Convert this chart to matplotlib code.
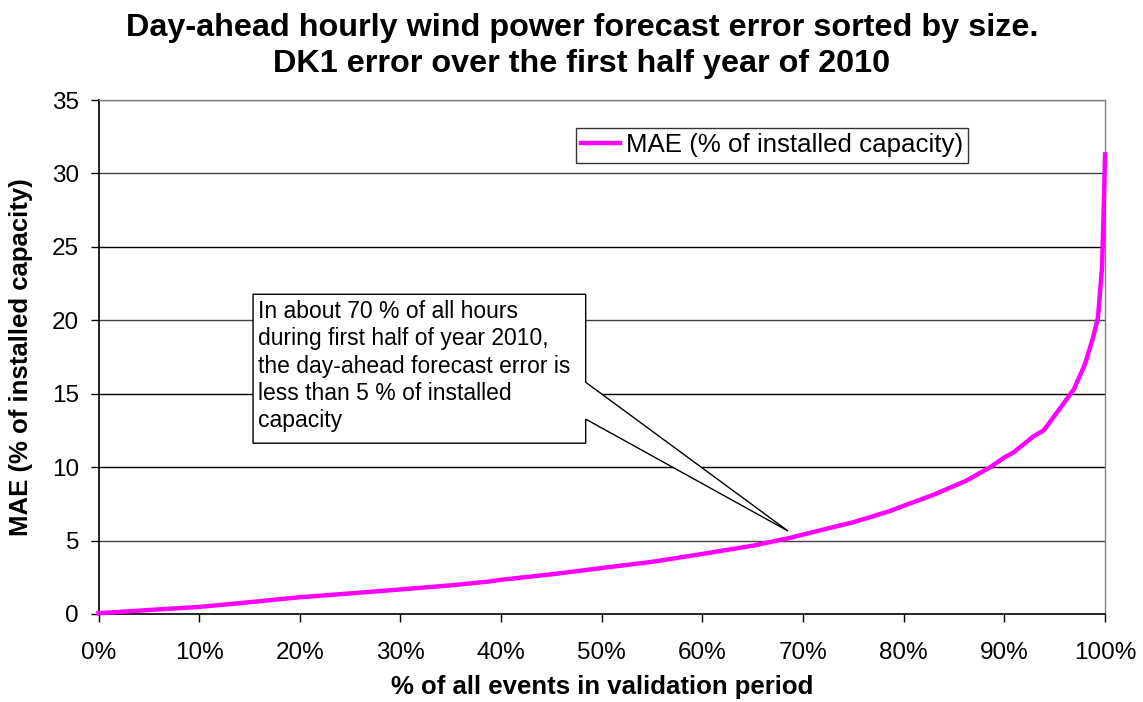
import matplotlib
matplotlib.use("Agg")
import matplotlib.pyplot as plt
from matplotlib.patches import Polygon
from matplotlib.ticker import FuncFormatter, MultipleLocator

plt.rcParams['font.family'] = ['Liberation Sans', 'DejaVu Sans']

# Data: sorted forecast error (MAE % of installed capacity) vs share of events (%)
pct_events = [0, 5, 10, 15, 20, 25, 30, 35, 38.8, 40, 45, 50, 55, 60, 65, 68.7, 70,
              75, 78.6, 80, 82.9, 86.2, 88.6, 90, 90.9, 92.9, 93.9, 95.2, 96.9,
              98.0, 98.8, 99.3, 99.7, 99.85, 100]
mae = [0.05, 0.27, 0.48, 0.8, 1.14, 1.4, 1.67, 1.95, 2.21, 2.33, 2.7, 3.13, 3.55,
       4.09, 4.65, 5.18, 5.41, 6.25, 7.0, 7.37, 8.1, 9.07, 10.0, 10.66, 11.0,
       12.1, 12.5, 13.7, 15.3, 17.0, 18.8, 20.2, 23.6, 27.2, 31.3]

series_label = "MAE (% of installed capacity)"
title = "Day-ahead hourly wind power forecast error sorted by size.\nDK1 error over the first half year of 2010"
xlabel = "% of all events in validation period"
ylabel = "MAE (% of installed capacity)"
note = ("In about 70 % of all hours\nduring first half of year 2010,\n"
        "the day-ahead forecast error is\nless than 5 % of installed\ncapacity")
note_target = (68.5, 5.65)

fig = plt.figure(figsize=(11.43, 7.02), dpi=100)
ax = fig.add_axes([0.0862, 0.1254, 0.8806, 0.7321])

ax.set_xlim(0, 100)
ax.set_ylim(0, 35)
ax.yaxis.set_major_locator(MultipleLocator(5))
ax.xaxis.set_major_locator(MultipleLocator(10))
ax.xaxis.set_major_formatter(FuncFormatter(lambda v, p: f"{int(round(v))}%"))

for y in range(5, 36, 5):
    ax.axhline(y, color='#404040' if y in (35, 30, 20, 5) else 'black', lw=1.0, zorder=1)

ax.plot(pct_events, mae, color='#FF00FF', lw=3.2, label=series_label, zorder=3,
        solid_joinstyle='round', clip_on=False)

for side in ('top', 'right'):
    ax.spines[side].set_color('#808080')
    ax.spines[side].set_linewidth(1.0)
for side in ('left', 'bottom'):
    ax.spines[side].set_color('black')
    ax.spines[side].set_linewidth(1.2)

ax.tick_params(axis='both', direction='out', length=6, width=1, labelsize=17.5, color='black')
ax.tick_params(axis='x', pad=14)
ax.tick_params(axis='y', pad=8)

ax.set_xlabel(xlabel, fontsize=18.5, fontweight='bold', labelpad=8)
ax.set_ylabel(ylabel, fontsize=18.5, fontweight='bold', labelpad=14)

fig.text(0.509, 0.982, title, ha='center', va='top', fontsize=23.3, fontweight='bold',
         linespacing=1.28)

# Callout box with wedge pointer
bx0, bx1, by0, by1 = 15.35, 48.4, 11.63, 21.77
wy_hi, wy_lo = 15.78, 13.27
poly = Polygon([(bx0, by1), (bx1, by1), (bx1, wy_hi), note_target, (bx1, wy_lo),
                (bx1, by0), (bx0, by0)], closed=True, facecolor='white',
               edgecolor='black', lw=1.0, zorder=4)
ax.add_patch(poly)
ax.text(bx0 + 0.5, by1 - 0.4, note, ha='left', va='top', fontsize=16.5,
        linespacing=1.24, zorder=5)

leg = ax.legend(loc='upper left', bbox_to_anchor=(0.474, 0.945), fontsize=18.6,
                frameon=True, fancybox=False, handlelength=1.5, handletextpad=0.25,
                borderpad=0.2, borderaxespad=0)
leg.get_frame().set_edgecolor('black')
leg.get_frame().set_linewidth(1.0)

fig.savefig("out.png", dpi=100)
